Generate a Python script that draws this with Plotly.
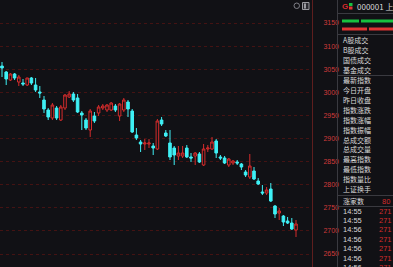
import plotly.graph_objects as go

# ---------------- data ----------------
opens = [3056.9, 3043.9, 3026.6, 3039.6, 3022.3, 3020.1, 3015.8, 3031.0, 3015.8, 3000.7,
         2983.3, 2961.7, 2944.4, 2966.0, 2940.0, 2966.0, 2989.8, 2996.3, 2987.7, 2955.2,
         2940.0, 2918.4, 2948.7, 2955.2, 2966.0, 2961.7, 2961.7, 2970.3, 2948.7, 2961.7,
         2979.0, 2959.5, 2907.6, 2892.4, 2888.1, 2888.1, 2883.8, 2877.3, 2940.0, 2911.9,
         2890.3, 2879.4, 2862.1, 2862.1, 2879.4, 2860.0, 2862.1, 2866.5, 2842.6, 2877.3,
         2877.3, 2894.6, 2860.0, 2857.8, 2842.6, 2847.0, 2849.1, 2844.8, 2827.5, 2816.7,
         2829.7, 2808.0, 2784.2, 2782.0, 2790.7, 2753.9, 2738.7, 2732.2, 2721.4, 2717.1,
         2701.9]
highs = [3065.6, 3046.1, 3041.8, 3041.8, 3037.4, 3028.8, 3031.5, 3033.1, 3031.0, 3013.6,
         2992.0, 2966.0, 2976.8, 2970.3, 2972.5, 2996.3, 3002.8, 3000.7, 2996.3, 2959.5,
         2944.4, 2963.9, 2957.4, 2972.5, 2974.7, 2974.7, 2979.0, 2974.7, 2976.8, 2987.7,
         2983.3, 2963.9, 2922.7, 2896.8, 2898.9, 2898.9, 2890.3, 2942.2, 2946.5, 2918.4,
         2918.4, 2883.8, 2883.8, 2883.8, 2885.9, 2868.6, 2870.8, 2870.8, 2888.1, 2885.9,
         2903.2, 2898.9, 2864.3, 2862.1, 2857.8, 2853.5, 2853.5, 2847.0, 2831.8, 2866.5,
         2838.3, 2814.5, 2799.3, 2795.0, 2803.7, 2756.1, 2749.6, 2734.4, 2730.1, 2727.9,
         2723.6]
lows = [3033.1, 3015.8, 3024.5, 3026.6, 3013.6, 3013.6, 3013.6, 3015.8, 3000.7, 2987.7,
        2955.2, 2940.0, 2940.0, 2940.0, 2937.9, 2961.7, 2987.7, 2979.0, 2955.2, 2918.4,
        2918.4, 2903.2, 2933.5, 2948.7, 2961.7, 2957.4, 2959.5, 2957.4, 2937.9, 2957.4,
        2946.5, 2911.9, 2896.8, 2870.8, 2875.1, 2879.4, 2864.3, 2875.1, 2927.1, 2903.2,
        2853.5, 2842.6, 2853.5, 2857.8, 2857.8, 2849.1, 2842.6, 2847.0, 2840.5, 2870.8,
        2875.1, 2857.8, 2853.5, 2844.8, 2838.3, 2842.6, 2842.6, 2831.8, 2816.7, 2812.3,
        2810.2, 2799.3, 2777.7, 2777.7, 2762.5, 2727.9, 2723.6, 2710.6, 2714.9, 2701.9,
        2686.8]
closes = [3052.6, 3028.8, 3039.6, 3031.0, 3033.1, 3018.0, 3031.0, 3020.1, 3005.0, 2998.5,
          2963.9, 2946.5, 2972.5, 2944.4, 2968.2, 2994.2, 2996.3, 2983.3, 2957.4, 2950.9,
          2922.7, 2959.5, 2937.9, 2968.2, 2970.3, 2972.5, 2976.8, 2961.7, 2974.7, 2983.3,
          2963.9, 2914.1, 2901.1, 2888.1, 2890.3, 2890.3, 2879.4, 2937.9, 2931.4, 2905.4,
          2860.0, 2864.3, 2868.6, 2868.6, 2860.0, 2857.8, 2868.6, 2849.1, 2877.3, 2879.4,
          2892.4, 2868.6, 2857.8, 2847.0, 2855.6, 2851.3, 2847.0, 2838.3, 2821.0, 2840.5,
          2812.3, 2801.5, 2782.0, 2788.5, 2764.7, 2736.6, 2743.1, 2719.3, 2717.1, 2704.1,
          2714.9]
bar_index = list(range(len(opens)))

ytick_vals = [2650, 2700, 2750, 2800, 2850, 2900, 2950, 3000, 3050, 3100, 3150]
ytick_text = [str(v) for v in ytick_vals]

header_code = "000001 上"
turnover_labels = ["A股成交", "B股成交", "国债成交", "基金成交"]
quote_labels = ["最新指数", "今日开盘", "昨日收盘", "指数涨跌", "指数涨幅", "指数振幅",
                "总成交额", "总成交量", "最高指数", "最低指数", "指数量比", "上证换手"]
rise_label = "涨家数"
rise_value = "80"
tick_times = ["14:55", "14:55", "14:56", "14:56", "14:56", "14:56", "14:56"]
tick_prices = ["271", "271", "271", "271", "271", "271", "271"]

# ---------------- styling ----------------
W, H = 393, 267
BG = "#111115"
RED = "#d42c2c"
CYAN = "#3ff0f5"
TXT = "#d8d8d8"
LINE = "#3a3a40"
CJK = "Noto Sans CJK SC, sans-serif"
LAT = "Liberation Sans, sans-serif"


def px(x):
    return x / W


def py(y):
    return 1 - y / H


fig = go.Figure()
fig.add_trace(go.Candlestick(
    x=bar_index, open=opens, high=highs, low=lows, close=closes,
    increasing=dict(line=dict(color=RED, width=1), fillcolor=BG),
    decreasing=dict(line=dict(color=CYAN, width=1), fillcolor=CYAN),
    whiskerwidth=0, hoverinfo="skip", showlegend=False,
))

shapes = []
annotations = []

# panel separators
shapes.append(dict(type="line", xref="paper", yref="paper", x0=px(337.5), x1=px(337.5),
                   y0=0, y1=1, line=dict(color=LINE, width=1)))
for yy in [13.5, 34.5, 75.5, 195.5, 206.5]:
    shapes.append(dict(type="line", xref="paper", yref="paper", x0=px(338), x1=1,
                       y0=py(yy), y1=py(yy), line=dict(color=LINE, width=1)))
# green / red bars
for x0, x1 in [(342, 359), (361, 393)]:
    shapes.append(dict(type="rect", xref="paper", yref="paper", x0=px(x0), x1=px(x1),
                       y0=py(22.5), y1=py(19.5), fillcolor="#18c040", line=dict(width=0)))
for x0, x1 in [(342, 367), (369, 393)]:
    shapes.append(dict(type="rect", xref="paper", yref="paper", x0=px(x0), x1=px(x1),
                       y0=py(30.5), y1=py(27.5), fillcolor="#e03434", line=dict(width=0)))
# header icon
shapes.append(dict(type="rect", xref="paper", yref="paper", x0=px(349), x1=px(352.5),
                   y0=py(6), y1=py(3), fillcolor="#18c040", line=dict(width=0)))
shapes.append(dict(type="rect", xref="paper", yref="paper", x0=px(349), x1=px(352.5),
                   y0=py(9.5), y1=py(6.5), fillcolor="#e03434", line=dict(width=0)))
# toolbar icons
shapes.append(dict(type="circle", xref="paper", yref="paper", x0=px(294), x1=px(299.5),
                   y0=py(8.5), y1=py(3), line=dict(color="#808088", width=1)))
shapes.append(dict(type="rect", xref="paper", yref="paper", x0=px(302.5), x1=px(309),
                   y0=py(9.5), y1=py(2.5), line=dict(color="#9a9aa0", width=1),
                   fillcolor="#2a2a30"))
shapes.append(dict(type="rect", xref="paper", yref="paper", x0=px(304), x1=px(306),
                   y0=py(8.5), y1=py(3.5), line=dict(width=0), fillcolor="#9a9aa0"))


def label(x, y, text, color=TXT, size=7, anchor="left", family=CJK):
    annotations.append(dict(xref="paper", yref="paper", x=px(x), y=py(y), text=text,
                            showarrow=False, xanchor=anchor, yanchor="middle", borderpad=0,
                            font=dict(family=family, size=size, color=color)))


label(340.5, 6, "<b>G</b>", color=RED, size=8, family=LAT)
label(355.5, 6, header_code, size=8)
for i, t in enumerate(turnover_labels):
    label(342, [40, 49.5, 59.5, 69.5][i], t)
for i, t in enumerate(quote_labels):
    label(342, 80.5 + i * 9.85, t)
label(342, 201, rise_label)
label(390.5, 201, rise_value, color=RED, anchor="right", family=LAT, size=7.5)
for i, (t, p) in enumerate(zip(tick_times, tick_prices)):
    yy = 211 + i * 9.4
    label(342, yy, t, family=LAT, size=7.5)
    label(392.5, yy, p, color=RED, anchor="right", family=LAT, size=7.5)

fig.update_layout(
    width=W, height=H,
    margin=dict(l=0, r=0, t=0, b=0),
    paper_bgcolor=BG, plot_bgcolor=BG,
    boxgap=0.12,
    showlegend=False,
    shapes=shapes,
    annotations=annotations,
    xaxis=dict(domain=[0, 312 / W], range=[-0.476, 73.81], visible=False,
               rangeslider=dict(visible=False), fixedrange=True),
    yaxis=dict(side="right", range=[2621.9, 3199.8], tickvals=ytick_vals, ticktext=ytick_text,
               tickfont=dict(family=LAT, size=7, color="#d03a3a"),
               showgrid=True, gridcolor="#441313", griddash="dot", gridwidth=1,
               showline=True, linecolor="#5e1e1e", linewidth=1, ticks="",
               ticklabelstandoff=9, zeroline=False, fixedrange=True),
)

fig.write_html("out.html", config={"displayModeBar": False})
